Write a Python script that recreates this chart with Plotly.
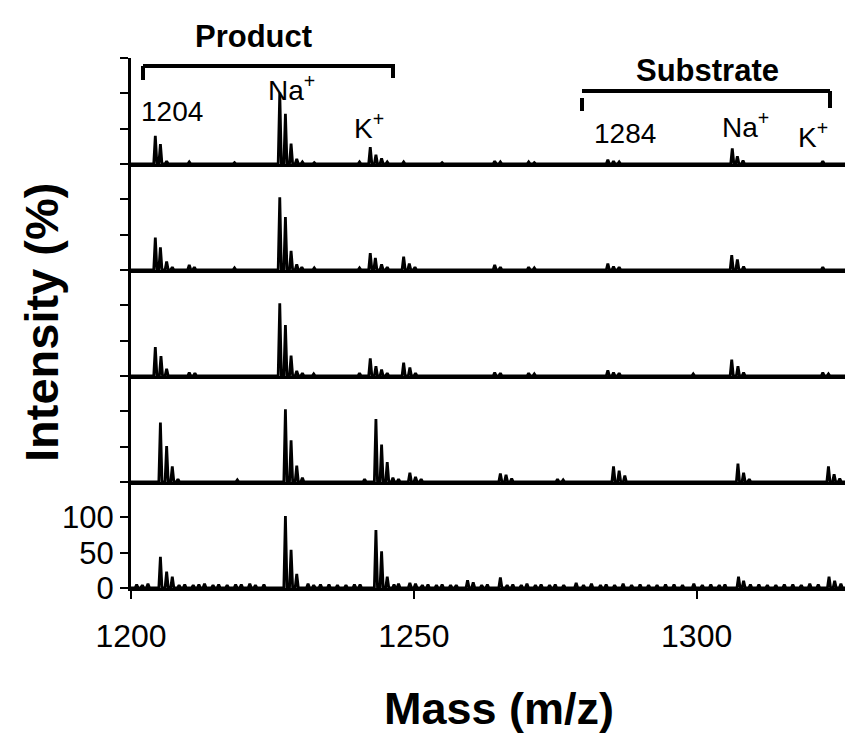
import plotly.graph_objects as go
from plotly.subplots import make_subplots

# ---------------- data ----------------
mass_range = [1200, 1328.7]
x_tick_vals = [1200, 1250, 1300]
y_tick_vals = [0, 50, 100, 150]
y_tick_text = ["0", "50", "100", ""]

# Spectrum 1 (top)
s1_mass = [1204.3, 1205.2, 1206.3, 1210.3, 1218.3, 1226.3, 1227.3, 1228.3, 1229.3, 1230.3, 1232.4,
           1240.4, 1242.3, 1243.3, 1244.3, 1245.3, 1248.2, 1255.0, 1264.3, 1265.3, 1270.3, 1271.3,
           1284.3, 1285.3, 1286.3, 1306.3, 1307.2, 1308.2, 1322.3, 1328.2]
s1_int = [40, 28, 4, 3, 2, 101, 71, 29, 7, 3, 2,
          3, 24, 13, 8, 3, 3, 2, 4, 3, 3, 2,
          6, 4, 3, 22, 11, 5, 4, 5]

# Spectrum 2
s2_mass = [1204.3, 1205.2, 1206.3, 1207.3, 1210.3, 1211.2, 1218.3, 1226.3, 1227.3, 1228.3, 1229.3,
           1230.2, 1232.4, 1240.4, 1242.3, 1243.2, 1244.3, 1245.3, 1248.2, 1249.2, 1250.2,
           1264.3, 1265.3, 1270.3, 1271.3, 1284.3, 1285.3, 1286.3, 1306.2, 1307.2, 1308.3,
           1322.3, 1328.2]
s2_int = [46, 32, 12, 4, 7, 4, 3, 103, 75, 27, 8,
          4, 3, 3, 24, 17, 8, 4, 19, 9, 4,
          7, 4, 4, 3, 9, 5, 4, 21, 15, 5,
          4, 5]

# Spectrum 3
s3_mass = [1204.3, 1205.3, 1206.3, 1210.3, 1211.3, 1226.3, 1227.3, 1228.3, 1229.3, 1230.3, 1232.3,
           1240.4, 1242.3, 1243.3, 1244.3, 1245.3, 1248.2, 1249.3, 1250.3,
           1264.3, 1265.3, 1270.3, 1271.3, 1284.3, 1285.3, 1286.3, 1299.4, 1306.2, 1307.3, 1308.3,
           1322.3, 1323.3, 1328.2]
s3_int = [41, 28, 10, 5, 4, 103, 72, 29, 7, 4, 3,
          4, 25, 14, 9, 4, 19, 12, 4,
          5, 4, 4, 3, 8, 5, 4, 3, 23, 14, 5,
          5, 3, 6]

# Spectrum 4
s4_mass = [1205.2, 1206.3, 1207.3, 1208.3, 1218.8, 1227.3, 1228.3, 1229.3, 1230.3, 1241.3,
           1243.3, 1244.3, 1245.3, 1246.3, 1247.3, 1249.3, 1250.3, 1251.3,
           1265.3, 1266.3, 1267.3, 1275.4, 1276.4, 1285.3, 1286.3, 1287.3, 1307.3, 1308.3, 1309.3,
           1323.3, 1324.3, 1325.3]
s4_int = [84, 51, 22, 4, 3, 103, 59, 23, 6, 4,
          89, 53, 28, 6, 4, 13, 7, 4,
          12, 10, 5, 4, 3, 22, 16, 9, 26, 13, 4,
          22, 11, 5]

# Spectrum 5 (bottom)
s5_mass = [1201.0, 1202.0, 1203.0, 1205.2, 1206.3, 1207.3, 1208.5, 1209.5, 1211.0, 1212.0, 1213.0,
           1214.5, 1215.5, 1217.0, 1218.5, 1219.5, 1221.0, 1222.0, 1223.5, 1227.3, 1228.3, 1229.3,
           1231.3, 1232.3, 1233.5, 1235.0, 1236.5, 1238.0, 1239.5, 1240.5, 1243.3, 1244.3, 1245.3,
           1246.5, 1247.3, 1249.3, 1250.3, 1251.5, 1252.5, 1254.0, 1255.0, 1256.5, 1257.5,
           1259.5, 1260.5, 1262.0, 1263.0, 1265.3, 1266.5, 1267.5, 1269.0, 1270.0, 1271.5, 1272.5,
           1274.0, 1275.0, 1276.5, 1278.7, 1280.0, 1281.4, 1283.0, 1284.0, 1285.5, 1287.0, 1288.5,
           1290.0, 1291.5, 1293.0, 1294.5, 1296.0, 1297.5, 1299.5, 1301.0, 1302.5, 1304.0, 1305.0,
           1307.4, 1308.3, 1309.5, 1311.0, 1312.5, 1314.0, 1315.5, 1317.0, 1318.5, 1320.0, 1321.5,
           1323.4, 1324.4, 1325.5, 1327.0, 1328.0]
s5_int = [5, 4, 6, 44, 23, 16, 4, 5, 4, 5, 6,
          4, 5, 4, 5, 5, 6, 4, 5, 102, 54, 20,
          6, 4, 5, 5, 4, 4, 5, 5, 82, 52, 16,
          5, 6, 7, 6, 4, 5, 4, 5, 4, 4,
          11, 8, 4, 5, 15, 4, 5, 4, 6, 4, 5,
          4, 5, 4, 7, 4, 6, 4, 5, 4, 6, 4,
          5, 4, 4, 5, 5, 4, 6, 4, 5, 4, 5,
          16, 10, 5, 5, 4, 4, 5, 5, 4, 6, 5,
          16, 10, 6, 5, 5]

spectra = [(s1_mass, s1_int), (s2_mass, s2_int), (s3_mass, s3_int), (s4_mass, s4_int), (s5_mass, s5_int)]

# ---------------- figure ----------------
W, H = 853, 733
L, R, T, B = 123, 2, 50, 153
FONT = "Liberation Sans, Arial, sans-serif"


def stick_trace(masses, ints, hw=0.28):
    xs, ys = [mass_range[0]], [0]
    for m, h in sorted(zip(masses, ints)):
        xs += [m - hw, m, m + hw]
        ys += [0, h, 0]
    xs.append(mass_range[1] + 2)
    ys.append(0)
    return xs, ys


fig = make_subplots(rows=5, cols=1, shared_xaxes=True, vertical_spacing=0)

for i, (ms, its) in enumerate(spectra, start=1):
    xs, ys = stick_trace(ms, its)
    fig.add_trace(go.Scatter(x=xs, y=ys, mode="lines",
                             line=dict(color="black", width=2.8),
                             showlegend=False, hoverinfo="skip"), row=i, col=1)
    bottom = (i == 5)
    fig.update_xaxes(range=mass_range, showline=True, linecolor="black", linewidth=3,
                     showgrid=False, zeroline=False,
                     tickvals=x_tick_vals if bottom else [],
                     ticks="outside" if bottom else "", ticklen=8, tickwidth=2, tickcolor="black",
                     showticklabels=bottom,
                     ticklabelstandoff=10,
                     tickfont=dict(family=FONT, size=32, color="black"),
                     row=i, col=1)
    fig.update_yaxes(range=[0, 150], showline=True, linecolor="black", linewidth=3,
                     showgrid=False, zeroline=False,
                     tickvals=y_tick_vals, ticktext=y_tick_text,
                     ticks="outside", ticklen=8, tickwidth=2, tickcolor="black",
                     showticklabels=bottom,
                     tickfont=dict(family=FONT, size=31, color="black"),
                     row=i, col=1)

PW = W - L - R
PH = H - T - B


def px(x):
    return (x - L) / PW


def py(y):
    return (H - B - y) / PH


def ann(text, x, y, size, bold=False, angle=0):
    t = f"<b>{text}</b>" if bold else text
    fig.add_annotation(text=t, x=px(x), y=py(y), xref="paper", yref="paper",
                       showarrow=False, xanchor="center", yanchor="middle",
                       textangle=angle, borderpad=0,
                       font=dict(family=FONT, size=size, color="black"))


ann("Product", 245, 28, 31, bold=True)
ann("Substrate", 699, 62, 31, bold=True)
ann("1204", 164, 104, 28)
ann("Na<sup>+</sup>", 283, 80, 28)
ann("K<sup>+</sup>", 361, 118, 28)
ann("1284", 617, 126, 28)
ann("Na<sup>+</sup>", 737, 117, 28)
ann("K<sup>+</sup>", 805, 127, 28)
ann("Mass (m/z)", 491, 700, 45, bold=True)
ann("Intensity (%)", 33, 315, 47, bold=True, angle=-90)


def seg(x0, y0, x1, y1):
    fig.add_shape(type="line", xref="paper", yref="paper",
                  x0=px(x0), y0=py(y0), x1=px(x1), y1=py(y1),
                  line=dict(color="black", width=4))


# Product bracket
seg(135, 58, 385, 58)
seg(135, 58, 135, 72)
seg(385, 56, 385, 70)
# Substrate bracket
seg(574, 83, 822, 83)
seg(574, 90, 574, 103)
seg(822, 83, 822, 100)

fig.update_layout(width=W, height=H, margin=dict(l=L, r=R, t=T, b=B),
                  paper_bgcolor="white", plot_bgcolor="white",
                  font=dict(family=FONT, color="black"))

fig.write_html("out.html")
